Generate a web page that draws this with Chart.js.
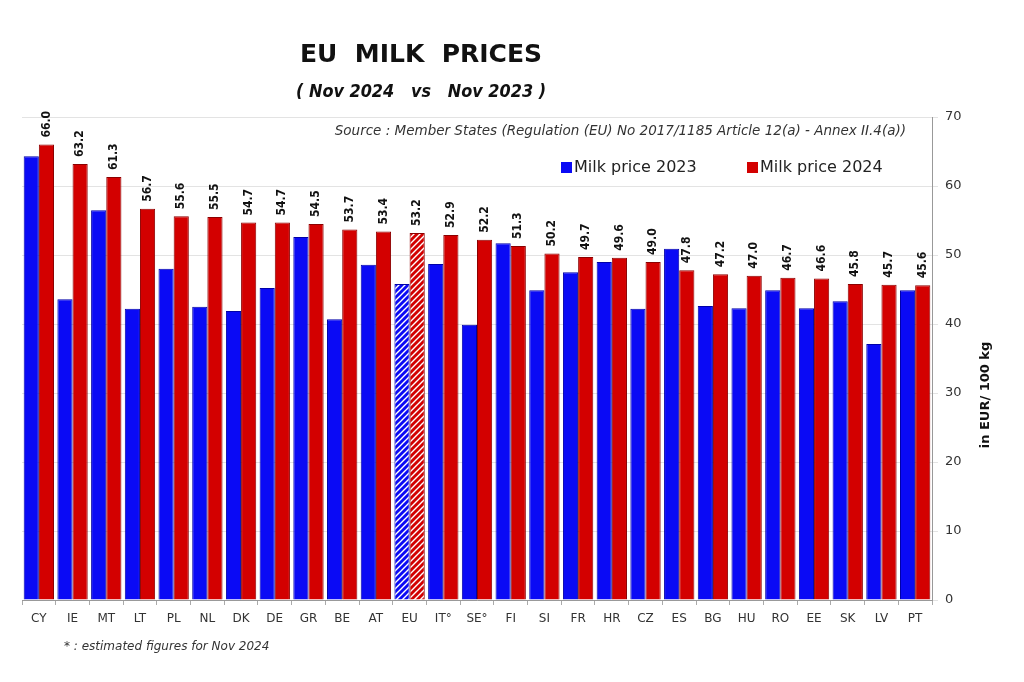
<!DOCTYPE html>
<html>
<head>
<meta charset="utf-8">
<script src="https://cdn.jsdelivr.net/npm/chart.js@4"></script>
<style>
  html, body { margin: 0; padding: 0; background: #ffffff; }
  #wrap { width: 1024px; height: 682px; position: relative; }
</style>
</head>
<body>
<div id="wrap"><canvas id="milkChart" width="1024" height="682"></canvas></div>
<script>
// Data
const countries = ['CY', 'IE', 'MT', 'LT', 'PL', 'NL', 'DK', 'DE', 'GR', 'BE', 'AT', 'EU', 'IT°', 'SE°', 'FI',
  'SI', 'FR', 'HR', 'CZ', 'ES', 'BG', 'HU', 'RO', 'EE', 'SK', 'LV', 'PT'];
const price2023 = [64.3, 43.6, 56.5, 42.2, 48.0, 42.5, 41.9, 45.2, 52.6, 40.7, 48.6, 45.8, 48.7, 39.9, 51.7,
  44.9, 47.5, 49.0, 42.2, 50.9, 42.6, 42.3, 44.9, 42.3, 43.3, 37.1, 44.9];
const price2024 = [66.0, 63.2, 61.3, 56.7, 55.6, 55.5, 54.7, 54.7, 54.5, 53.7, 53.4, 53.2, 52.9, 52.2, 51.3,
  50.2, 49.7, 49.6, 49.0, 47.8, 47.2, 47.0, 46.7, 46.6, 45.8, 45.7, 45.6];
const yTicks = [0, 10, 20, 30, 40, 50, 60, 70];
const hatchedIndex = 11; // EU average drawn with stripes

const BLUE = '#0a0af5';
const RED = '#d30000';

// Motif garis miring untuk batang EU
function makeHatch(color) {
    const c = document.createElement('canvas');
    c.width = 6; c.height = 6;
    const g = c.getContext('2d');
    g.fillStyle = color;
    g.fillRect(0, 0, 6, 6);
    g.strokeStyle = '#ffffff';
    g.lineWidth = 1.4;
    g.beginPath();
    g.moveTo(-1, 7); g.lineTo(7, -1);
    g.moveTo(-1, 1); g.lineTo(1, -1);
    g.moveTo(5, 7); g.lineTo(7, 5);
    g.stroke();
    return g.createPattern(c, 'repeat');
}

const ctx = document.getElementById('milkChart').getContext('2d');
const blueFill = countries.map((_, i) => i === hatchedIndex ? makeHatch(BLUE) : BLUE);
const redFill = countries.map((_, i) => i === hatchedIndex ? makeHatch(RED) : RED);

// Teks judul, sumber, legenda dan catatan kaki
const decorations = {
    id: 'decorations',
    afterDraw(chart) {
        const c = chart.ctx;
        c.save();
        c.fillStyle = '#111111';
        c.textBaseline = 'middle';
        c.textAlign = 'center';
        c.font = 'bold 25px "DejaVu Sans"';
        c.fillText('EU  MILK  PRICES', 421, 55);
        c.font = 'italic bold 17px "DejaVu Sans"';
        c.fillText('( Nov 2024   vs   Nov 2023 )', 421, 93, 250);

        c.textAlign = 'right';
        c.fillStyle = '#333333';
        c.font = 'italic 13.5px "DejaVu Sans"';
        c.fillText('Source : Member States (Regulation (EU) No 2017/1185 Article 12(a) - Annex II.4(a))', 906, 131, 572);

        // legend
        c.textAlign = 'left';
        c.font = '16px "DejaVu Sans"';
        c.fillStyle = BLUE;
        c.fillRect(561, 162, 11, 11);
        c.fillStyle = RED;
        c.fillRect(747, 162, 11, 11);
        c.fillStyle = '#222222';
        c.fillText('Milk price 2023', 574, 168);
        c.fillText('Milk price 2024', 760, 168);

        c.font = 'italic 12px "DejaVu Sans"';
        c.fillStyle = '#333333';
        c.fillText('* : estimated figures for Nov 2024', 64, 647, 207);

        // judul sumbu y
        c.translate(986, 395);
        c.rotate(-Math.PI / 2);
        c.textAlign = 'center';
        c.font = 'bold 13px "DejaVu Sans"';
        c.fillStyle = '#111111';
        c.fillText('in EUR/ 100 kg', 0, 0);
        c.restore();
    }
};

// Label nilai tegak di atas batang 2024
const valueLabels = {
    id: 'valueLabels',
    afterDatasetsDraw(chart) {
        const c = chart.ctx;
        const meta = chart.getDatasetMeta(1);
        c.save();
        c.font = 'bold 12px "DejaVu Sans Condensed", "DejaVu Sans"';
        c.fillStyle = '#111111';
        c.textAlign = 'left';
        c.textBaseline = 'middle';
        meta.data.forEach((bar, i) => {
            c.save();
            c.translate(bar.x, bar.y - 7);
            c.rotate(-Math.PI / 2);
            c.fillText(price2024[i].toFixed(1), 0, 0);
            c.restore();
        });
        c.restore();
    }
};

new Chart(ctx, {
    type: 'bar',
    plugins: [decorations, valueLabels],
    data: {
        labels: countries,
        datasets: [
            {
                label: 'Milk price 2023',
                data: price2023,
                backgroundColor: blueFill,
                borderColor: '#0000a8',
                borderWidth: 1,
                categoryPercentage: 0.9,
                barPercentage: 1.0
            },
            {
                label: 'Milk price 2024',
                data: price2024,
                backgroundColor: redFill,
                borderColor: '#8c0000',
                borderWidth: 1,
                categoryPercentage: 0.9,
                barPercentage: 1.0
            }
        ]
    },
    options: {
        responsive: false,
        animation: false,
        layout: { padding: { left: 22, top: 117, right: 0, bottom: 0 } },
        plugins: {
            legend: { display: false },
            title: { display: false },
            tooltip: { enabled: false }
        },
        scales: {
            x: {
                offset: true,
                grid: {
                    offset: true,
                    drawOnChartArea: false,
                    tickLength: 5,
                    color: '#aaaaaa'
                },
                border: { color: '#999999' },
                ticks: {
                    color: '#333333',
                    font: { family: 'DejaVu Sans', size: 12 },
                    padding: 7,
                    maxRotation: 0,
                    autoSkip: false
                },
                afterFit: (scale) => { scale.height = 82; }
            },
            y: {
                position: 'right',
                min: 0,
                max: 70,
                afterBuildTicks: (scale) => { scale.ticks = yTicks.map(v => ({ value: v })); },
                grid: { color: '#e3e3e3', tickLength: 6 },
                border: { color: '#999999' },
                ticks: {
                    color: '#333333',
                    font: { family: 'DejaVu Sans', size: 13 },
                    padding: 7
                },
                afterFit: (scale) => { scale.width = 92; }
            }
        }
    }
});
</script>
</body>
</html>
